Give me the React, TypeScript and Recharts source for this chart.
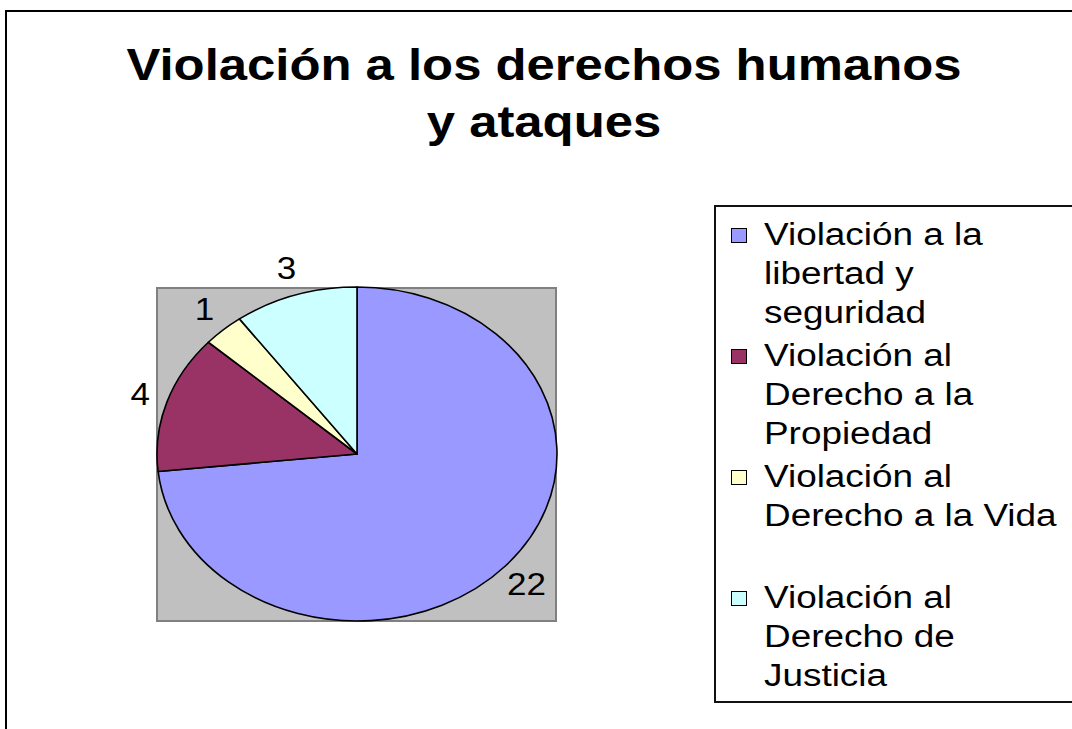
import React from 'react';
import { PieChart, Pie, Legend } from 'recharts';

const titleLines = ['Violación a los derechos humanos', 'y ataques'];
const categories = [
  'Violación a la libertad y seguridad',
  'Violación al Derecho a la Propiedad',
  'Violación al Derecho a la Vida',
  'Violación al Derecho de Justicia',
];
const values = [22, 4, 1, 3];
const colors = ['#9999FF', '#993366', '#FFFFCC', '#CCFFFF'];

const data = categories.map((name, i) => ({ name, value: values[i], fill: colors[i] }));

const W = 1072;
const H = 729;
const CX = 357;
const CY = 454;
const RX = 200;
const ELLIPSE = 167 / 200;
const RAD = Math.PI / 180;
const FONT = '"Liberation Sans", Arial, Helvetica, sans-serif';

function EllipseSector(props: any) {
  const { cx, cy, outerRadius, startAngle, endAngle, fill } = props;
  const rx = outerRadius;
  const ry = outerRadius * ELLIPSE;
  const p = (a: number) => [cx + rx * Math.cos(a * RAD), cy - ry * Math.sin(a * RAD)];
  const [x1, y1] = p(startAngle);
  const [x2, y2] = p(endAngle);
  const large = Math.abs(startAngle - endAngle) > 180 ? 1 : 0;
  const sweep = startAngle > endAngle ? 1 : 0;
  const d = `M${cx},${cy} L${x1},${y1} A${rx},${ry} 0 ${large} ${sweep} ${x2},${y2} Z`;
  return <path d={d} fill={fill} stroke="#000" strokeWidth={1.6} strokeLinejoin="round" />;
}

function renderLabel(props: any) {
  const { cx, cy, midAngle, outerRadius, value } = props;
  const a = midAngle * RAD;
  const rx = outerRadius;
  const ry = outerRadius * ELLIPSE;
  const x = cx + (rx + 28) * Math.cos(a);
  const y = cy - (ry + 28) * Math.sin(a);
  return (
    <text
      transform={`translate(${x},${y}) scale(1.13,1)`}
      textAnchor="middle"
      dominantBaseline="central"
      fontSize={31}
      fontFamily={FONT}
      fill="#000"
    >
      {value}
    </text>
  );
}

function renderLegend(props: any) {
  const payload = props.payload || [];
  return (
    <div
      style={{
        width: 400,
        height: 498,
        boxSizing: 'border-box',
        border: '2px solid #111',
        background: '#fff',
        paddingTop: 8,
      }}
    >
      {payload.map((entry: any, i: number) => (
        <div key={i} style={{ position: 'relative', height: 117, marginBottom: 4 }}>
          <div
            style={{
              position: 'absolute',
              left: 15,
              top: 13,
              width: 14,
              height: 13,
              background: entry.color || colors[i],
              border: '1.5px solid #000',
            }}
          />
          <div
            style={{
              position: 'absolute',
              left: 48,
              top: 0,
              width: 256,
              fontFamily: FONT,
              fontSize: 31,
              lineHeight: '39px',
              color: '#000',
              transform: 'scaleX(1.19)',
              transformOrigin: 'left top',
            }}
          >
            {entry.value || categories[i]}
          </div>
        </div>
      ))}
    </div>
  );
}

export default function App() {
  return (
    <div
      style={{
        position: 'absolute',
        left: 0,
        top: 0,
        width: W,
        height: H,
        overflow: 'hidden',
        background: '#fff',
      }}
    >
      <div
        style={{
          position: 'absolute',
          left: 5,
          top: 10,
          width: 1200,
          height: 900,
          border: '2px solid #000',
        }}
      />
      <div
        style={{
          position: 'absolute',
          left: 156,
          top: 287,
          width: 401,
          height: 335,
          boxSizing: 'border-box',
          background: '#C0C0C0',
          border: '2px solid #808080',
        }}
      />
      <div
        style={{
          position: 'absolute',
          left: 544 - 536,
          top: 36,
          width: 1072,
          textAlign: 'center',
          fontFamily: FONT,
          fontWeight: 'bold',
          fontSize: 44,
          lineHeight: '57px',
          color: '#000',
          transform: 'scaleX(1.155)',
          transformOrigin: 'center top',
        }}
      >
        {titleLines.map((t, i) => (
          <div key={i}>{t}</div>
        ))}
      </div>
      <div style={{ position: 'absolute', left: 0, top: 0 }}>
        <PieChart width={W} height={H} margin={{ top: 0, right: 0, bottom: 0, left: 0 }}>
          <Pie
            data={data}
            dataKey="value"
            nameKey="name"
            cx={CX}
            cy={CY}
            outerRadius={RX}
            startAngle={90}
            endAngle={-270}
            shape={EllipseSector}
            label={renderLabel}
            labelLine={false}
            legendType="square"
            isAnimationActive={false}
          />
          <Legend
            content={renderLegend}
            wrapperStyle={{ position: 'absolute', left: 714, top: 205, width: 400, height: 498 }}
          />
        </PieChart>
      </div>
    </div>
  );
}
